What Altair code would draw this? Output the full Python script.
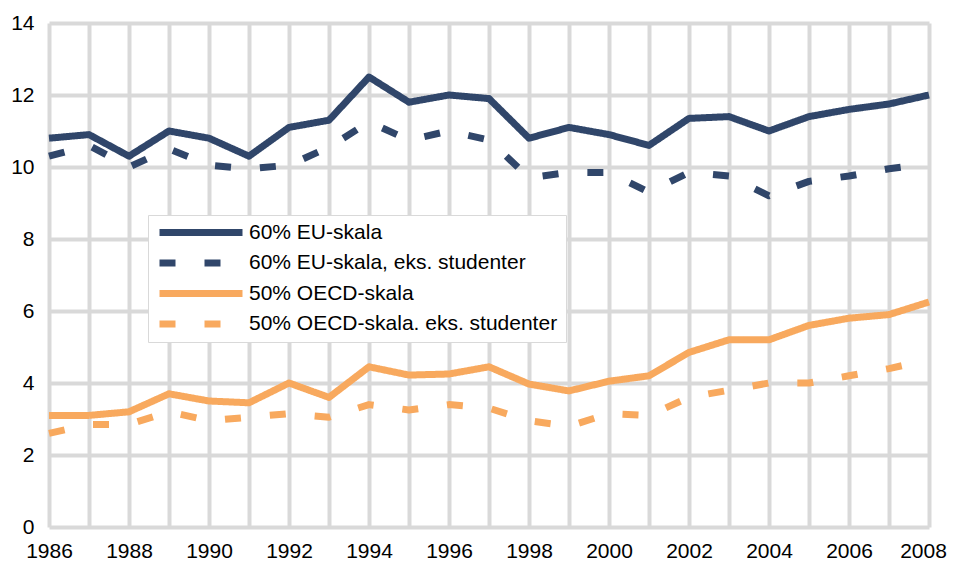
import altair as alt
import pandas as pd

years = list(range(1986, 2009))
series_names = [
    "60% EU-skala",
    "60% EU-skala, eks. studenter",
    "50% OECD-skala",
    "50% OECD-skala. eks. studenter",
]
eu = [10.8, 10.9, 10.3, 11.0, 10.8, 10.3, 11.1, 11.3, 12.5, 11.8, 12.0, 11.9,
      10.8, 11.1, 10.9, 10.6, 11.35, 11.4, 11.0, 11.4, 11.6, 11.75, 12.0]
eu_eks = [10.3, 10.6, 10.0, 10.5, 10.05, 9.95, 10.05, 10.55, 11.25, 10.75, 11.0, 10.75,
          9.7, 9.85, 9.85, 9.3, 9.85, 9.75, 9.2, 9.6, 9.75, 9.95, 10.1]
oecd = [3.1, 3.1, 3.2, 3.7, 3.5, 3.45, 4.0, 3.6, 4.45, 4.22, 4.25, 4.45,
        3.97, 3.78, 4.05, 4.2, 4.85, 5.2, 5.2, 5.6, 5.8, 5.9, 6.25]
oecd_eks = [2.6, 2.85, 2.85, 3.2, 2.95, 3.05, 3.15, 3.05, 3.4, 3.25, 3.4, 3.3,
            2.95, 2.8, 3.15, 3.1, 3.6, 3.8, 4.0, 4.0, 4.2, 4.4, 4.65]

rows = []
for name, vals in zip(series_names, [eu, eu_eks, oecd, oecd_eks]):
    for y, v in zip(years, vals):
        rows.append({"year": y, "value": v, "series": name})
df = pd.DataFrame(rows)

navy = "#30466a"
orange = "#f8a95e"
font = "Liberation Sans"

legend = alt.Legend(
    title=None, orient="none", legendX=99, legendY=192,
    symbolType="stroke", symbolSize=6889, symbolStrokeWidth=7,
    labelFont=font, labelFontSize=21, labelColor="#000000", labelOffset=3,
    clipHeight=19, rowPadding=8.5, padding=8,
    strokeColor="#d9d9d9", fillColor="#ffffff", labelLimit=500,
)

chart = alt.Chart(df).mark_line(strokeWidth=7, strokeJoin="round").encode(
    x=alt.X("year:Q", scale=alt.Scale(domain=[1986, 2008], nice=False),
            axis=alt.Axis(values=years, format="d",
                          labelExpr="datum.value % 2 == 0 ? datum.label : ''",
                          labelOffset={"condition": {"test": "datum.value == 2008", "value": -6}, "value": 0},
                          title=None, domain=False, ticks=False,
                          labelFont=font, labelFontSize=21, labelColor="#000000",
                          labelPadding=13, grid=True, gridColor="#d9d9d9",
                          gridWidth=4, labelFlush=False, labelOverlap=False)),
    y=alt.Y("value:Q", scale=alt.Scale(domain=[0, 14], nice=False),
            axis=alt.Axis(values=[0, 2, 4, 6, 8, 10, 12, 14], title=None,
                          domain=False, ticks=False, labelFont=font,
                          labelFontSize=21, labelColor="#000000", labelPadding=15,
                          grid=True, gridColor="#d9d9d9", gridWidth=4)),
    color=alt.Color("series:N", scale=alt.Scale(domain=series_names,
                    range=[navy, navy, orange, orange]), legend=legend),
    strokeDash=alt.StrokeDash("series:N", scale=alt.Scale(domain=series_names,
                    range=[[1, 0], [16, 29], [1, 0], [16, 29]]), legend=legend),
    order=alt.Order("year:Q"),
).properties(
    width=880, height=504,
    autosize=alt.AutoSizeParams(type="none"),
    padding={"left": 41, "top": 15, "right": 18, "bottom": 34},
).configure_view(stroke=None)

chart.save("out.html", embed_options={"renderer": "svg", "actions": False})
